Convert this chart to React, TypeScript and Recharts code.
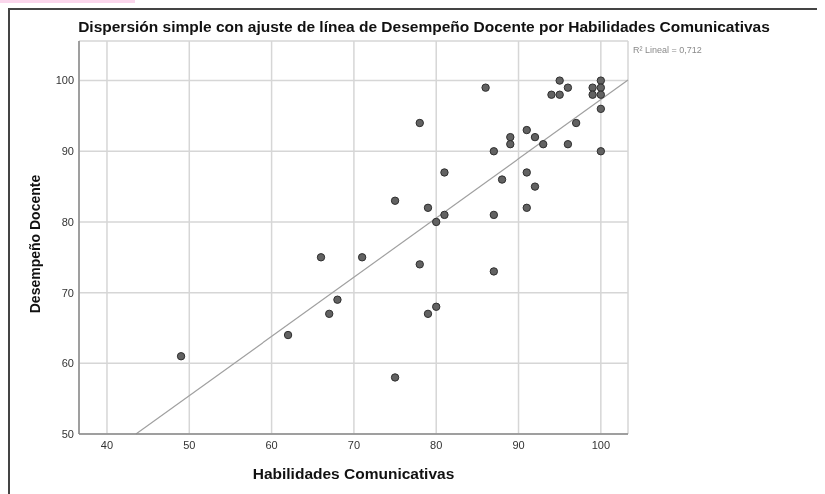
import React from 'react';
import { ScatterChart, Scatter, XAxis, YAxis, CartesianGrid, ReferenceLine } from 'recharts';

// Habilidades Comunicativas (x) vs Desempeño Docente (y)
const habilidades = [
  49, 62, 66, 67, 68, 71, 75, 75, 78, 78, 79, 79, 80, 80, 81, 81, 86, 87, 87, 87, 88,
  89, 89, 91, 91, 91, 92, 92, 93, 94, 95, 95, 96, 96, 97, 99, 99, 100, 100, 100, 100, 100,
];
const desempeno = [
  61, 64, 75, 67, 69, 75, 83, 58, 94, 74, 82, 67, 80, 68, 87, 81, 99, 90, 81, 73, 86,
  92, 91, 93, 87, 82, 92, 85, 91, 98, 100, 98, 99, 91, 94, 99, 98, 100, 99, 98, 96, 90,
];
const xTicks = [40, 50, 60, 70, 80, 90, 100];
const yTicks = [50, 60, 70, 80, 90, 100];
const xDomain = [36.6, 103.3];
const yDomain = [50, 105.6];
const rSquaredLabel = 'R² Lineal = 0,712';

const points = habilidades.map((x, i) => ({ x, y: desempeno[i] }));

// least squares fit for the reference line
function linearFit(xs: number[], ys: number[]) {
  const n = xs.length;
  const mx = xs.reduce((a, b) => a + b, 0) / n;
  const my = ys.reduce((a, b) => a + b, 0) / n;
  let sxy = 0;
  let sxx = 0;
  xs.forEach((x, i) => {
    sxy += (x - mx) * (ys[i] - my);
    sxx += (x - mx) * (x - mx);
  });
  const slope = sxy / sxx;
  return { slope, intercept: my - slope * mx };
}

const fit = linearFit(habilidades, desempeno);
const fitStart = { x: (yDomain[0] - fit.intercept) / fit.slope, y: yDomain[0] };
const fitEnd = { x: xDomain[1], y: fit.intercept + fit.slope * xDomain[1] };

const FONT = '"Liberation Sans", Arial, sans-serif';
const tickStyle = { fontSize: 11, fontFamily: FONT, fill: '#333' };

const Dot = (props: any) => (
  <circle cx={props.cx} cy={props.cy} r={3.7} fill="#626262" stroke="#2e2e2e" strokeWidth={1} />
);

export default function App() {
  return (
    <>
      <div style={{ position: 'fixed', left: 0, top: 0, width: 135, height: 3, background: '#fad6ec' }} />
      <div style={{ position: 'relative', width: 817, height: 486, fontFamily: FONT }}>
        <div style={{ position: 'absolute', left: 0, top: 0, width: 2, height: 486, background: '#444' }} />
        <div style={{ position: 'absolute', left: 0, top: 0, width: 817, height: 2, background: '#444' }} />
        <ScatterChart width={817} height={486} margin={{ top: 33, right: 197, bottom: 0, left: 0 }}>
          <CartesianGrid stroke="#d6d6d6" strokeWidth={1.5} />
          <XAxis
            type="number"
            dataKey="x"
            domain={xDomain}
            ticks={xTicks}
            allowDataOverflow
            height={60}
            tickLine={false}
            tickSize={0}
            tickMargin={7}
            stroke="#8a8a8a"
            strokeWidth={1.5}
            tick={tickStyle}
          />
          <YAxis
            type="number"
            dataKey="y"
            domain={yDomain}
            ticks={yTicks}
            allowDataOverflow
            width={71}
            tickLine={false}
            tickSize={0}
            tickMargin={5}
            stroke="#8a8a8a"
            strokeWidth={1.5}
            tick={tickStyle}
          />
          <ReferenceLine
            segment={[fitStart, fitEnd]}
            stroke="#a0a0a0"
            strokeWidth={1.2}
            ifOverflow="visible"
          />
          <Scatter data={points} shape={Dot} isAnimationActive={false} />
        </ScatterChart>
        <div
          style={{
            position: 'absolute',
            left: 0,
            width: 832,
            top: 10,
            textAlign: 'center',
            fontSize: 15.5,
            fontWeight: 'bold',
            color: '#111',
            whiteSpace: 'nowrap',
          }}
        >
          Dispersión simple con ajuste de línea de Desempeño Docente por Habilidades Comunicativas
        </div>
        <div style={{ position: 'absolute', left: 625, top: 37, fontSize: 9, color: '#8a8a8a', whiteSpace: 'nowrap' }}>
          {rSquaredLabel}
        </div>
        <div
          style={{
            position: 'absolute',
            left: 71,
            width: 549,
            top: 457,
            textAlign: 'center',
            fontSize: 15.5,
            fontWeight: 'bold',
            color: '#111',
          }}
        >
          Habilidades Comunicativas
        </div>
        <div
          style={{
            position: 'absolute',
            left: 27 - 100,
            top: 237 - 9,
            width: 200,
            textAlign: 'center',
            fontSize: 14,
            fontWeight: 'bold',
            color: '#111',
            transform: 'rotate(-90deg)',
          }}
        >
          Desempeño Docente
        </div>
      </div>
    </>
  );
}
